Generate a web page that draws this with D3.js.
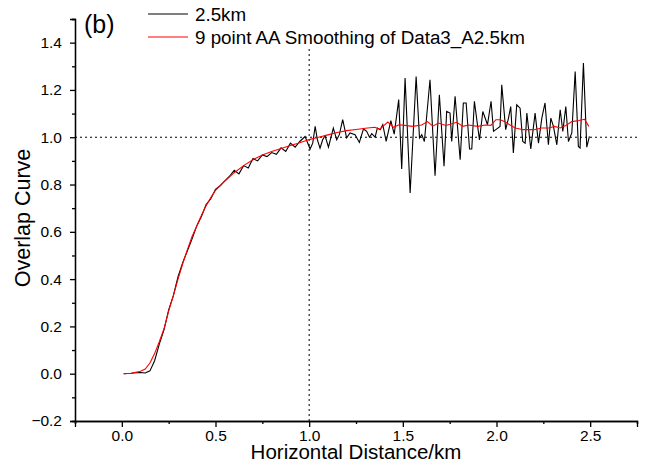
<!DOCTYPE html>
<html><head><meta charset="utf-8">
<script src="https://cdn.jsdelivr.net/npm/d3@7"></script>
<style>body{margin:0;background:#fff}svg{display:block;font-family:"Liberation Sans",Arial,sans-serif}</style>
</head><body><svg id="c" width="646" height="466"></svg>
<script>
// Black series: raw overlap curve (2.5km)
const rawDist = [0.01,0.05,0.075,0.1,0.125,0.15,0.175,0.2,0.225,0.25,0.275,0.3,0.325,0.35,0.375,0.4,0.425,0.45,0.475,0.5,
0.525,0.55,0.575,0.6,0.625,0.65,0.675,0.7,0.725,0.75,0.775,0.8,0.825,0.85,0.875,0.9,0.925,0.95,0.978,1.005,
1.019,1.032,1.044,1.058,1.072,1.085,1.103,1.129,1.147,1.161,1.179,1.2,1.218,1.245,1.268,1.29,1.307,1.322,1.334,1.352,
1.364,1.379,1.393,1.411,1.436,1.454,1.478,1.494,1.512,1.539,1.571,1.589,1.601,1.615,1.645,1.672,1.695,1.72,1.734,1.752,
1.761,1.779,1.806,1.823,1.838,1.856,1.868,1.882,1.909,1.927,1.952,1.971,1.984,2.019,2.028,2.049,2.064,2.076,2.09,2.108,
2.126,2.14,2.153,2.162,2.183,2.206,2.224,2.242,2.259,2.277,2.29,2.304,2.322,2.34,2.354,2.37,2.384,2.402,2.42,2.437,
2.446,2.464,2.482,2.496];
const rawOverlap = [0.0,0.002,0.004,0.005,0.003,0.012,0.055,0.125,0.185,0.27,0.33,0.41,0.47,0.52,0.57,0.625,0.665,0.715,0.74,0.78,
0.795,0.815,0.835,0.86,0.845,0.88,0.87,0.91,0.9,0.925,0.918,0.935,0.928,0.955,0.94,0.975,0.958,0.982,1.003,0.95,
0.975,1.046,0.989,0.954,0.989,1.006,0.958,1.039,0.989,1.011,1.074,0.997,1.018,1.011,0.978,1.035,1.025,1.0,1.015,1.0,
1.039,1.032,1.053,0.982,1.07,1.013,1.159,0.866,1.25,0.764,1.257,0.997,1.011,0.982,1.243,0.837,1.18,0.877,1.109,1.102,
0.982,1.173,0.905,1.145,1.145,0.95,0.95,1.152,0.989,1.109,1.053,1.152,1.025,1.046,1.222,1.032,1.081,1.13,0.933,1.137,
1.123,0.982,0.975,1.102,0.95,1.102,0.975,1.081,1.145,0.968,1.081,1.046,0.968,1.116,1.025,1.13,0.982,1.018,1.278,0.961,
0.954,1.314,0.958,1.004];
// Red series: 9 point AA smoothing
const smoothDist = [0.01,0.05,0.1,0.125,0.15,0.175,0.2,0.225,0.25,0.275,0.3,0.325,0.35,0.375,0.4,0.425,0.45,0.475,0.5,0.55,
0.6,0.65,0.7,0.75,0.8,0.85,0.9,0.95,1.0,1.05,1.1,1.15,1.2,1.25,1.3,1.35,1.378,1.4,1.42,1.45,
1.48,1.51,1.553,1.6,1.632,1.66,1.69,1.73,1.788,1.82,1.85,1.9,1.94,1.97,1.997,2.02,2.045,2.07,2.1,2.144,
2.2,2.24,2.28,2.31,2.34,2.37,2.402,2.44,2.47,2.493];
const smoothOverlap = [0.0,0.002,0.01,0.02,0.045,0.085,0.135,0.19,0.265,0.33,0.4,0.465,0.525,0.58,0.625,0.67,0.71,0.745,0.775,0.815,
0.85,0.88,0.905,0.925,0.94,0.952,0.965,0.977,0.99,1.0,1.01,1.02,1.028,1.033,1.038,1.042,1.034,1.05,1.064,1.042,
1.053,1.05,1.046,1.052,1.066,1.047,1.06,1.05,1.063,1.046,1.052,1.046,1.052,1.05,1.074,1.074,1.066,1.053,1.039,1.032,
1.032,1.039,1.039,1.046,1.039,1.05,1.066,1.071,1.076,1.046];
const xMajor = [0,0.5,1.0,1.5,2.0,2.5];
const xMinor = [-0.25,0.25,0.75,1.25,1.75,2.25,2.75];
const yMajor = [-0.2,0,0.2,0.4,0.6,0.8,1.0,1.2,1.4];
const yMinor = [-0.1,0.1,0.3,0.5,0.7,0.9,1.1,1.3,1.5];
const legendLabels = ["2.5km","9 point AA Smoothing of Data3_A2.5km"];

const svg = d3.select("#c");
const L=75,R=637,T=19,B=421;
const x = d3.scaleLinear().domain([-0.25,2.75]).range([L,R]);
const y = d3.scaleLinear().domain([-0.2,1.5]).range([B,T]);

// reference dotted lines
svg.append("line").attr("x1",x(-0.25)).attr("x2",x(2.75)).attr("y1",y(1)).attr("y2",y(1))
  .attr("stroke","#000").attr("stroke-width",1).attr("stroke-dasharray","2,3");
svg.append("line").attr("x1",x(1)).attr("x2",x(1)).attr("y1",y(1.5)).attr("y2",y(-0.2))
  .attr("stroke","#000").attr("stroke-width",1).attr("stroke-dasharray","2,3");

const line = d3.line().x(d=>x(d[0])).y(d=>y(d[1]));
svg.append("path").datum(rawDist.map((d,i)=>[d,rawOverlap[i]])).attr("d",line)
  .attr("fill","none").attr("stroke","#000").attr("stroke-width",1.1);
svg.append("path").datum(smoothDist.map((d,i)=>[d,smoothOverlap[i]])).attr("d",line)
  .attr("fill","none").attr("stroke","#ff0000").attr("stroke-width",1.1);

// axes
function styleAx(g){g.selectAll("path,line").attr("stroke","#000").attr("stroke-width",1.3);g.selectAll("text").attr("fill","#000").style("font-size","15.5px").attr("font-family","Liberation Sans, Arial, sans-serif");}
svg.append("g").attr("transform",`translate(0,${B})`)
  .call(d3.axisBottom(x).tickValues(xMajor).tickSize(6).tickPadding(3).tickFormat(d3.format(".1f"))).call(styleAx);
svg.append("g").attr("transform",`translate(0,${B})`)
  .call(d3.axisBottom(x).tickValues(xMinor).tickSize(3).tickFormat("")).call(styleAx);
svg.append("g").attr("transform",`translate(${L},0)`)
  .call(d3.axisLeft(y).tickValues(yMajor).tickSize(5).tickPadding(8).tickFormat(d3.format(".1f"))).call(styleAx);
svg.append("g").attr("transform",`translate(${L},0)`)
  .call(d3.axisLeft(y).tickValues(yMinor).tickSize(3).tickFormat("")).call(styleAx);

// titles
svg.append("text").attr("x",(L+R)/2).attr("y",459).attr("text-anchor","middle").style("font-size","20.5px").text("Horizontal Distance/km");
svg.append("text").attr("transform",`translate(30,${(T+B)/2-2}) rotate(-90)`).attr("text-anchor","middle").style("font-size","21.5px").text("Overlap Curve");
svg.append("text").attr("x",84).attr("y",33).style("font-size","25px").text("(b)");

// legend
const lg = svg.append("g");
lg.append("rect").attr("x",140).attr("y",3).attr("width",400).attr("height",43).attr("fill","#fff");
const colors=["#000","#ff0000"];
legendLabels.forEach((t,i)=>{
  const yy = 14 + i*23;
  lg.append("line").attr("x1",148).attr("x2",188).attr("y1",yy).attr("y2",yy).attr("stroke",colors[i]).attr("stroke-width",1.1);
  lg.append("text").attr("x",195).attr("y",yy+7).style("font-size","18.8px").text(t);
});
</script></body></html>
